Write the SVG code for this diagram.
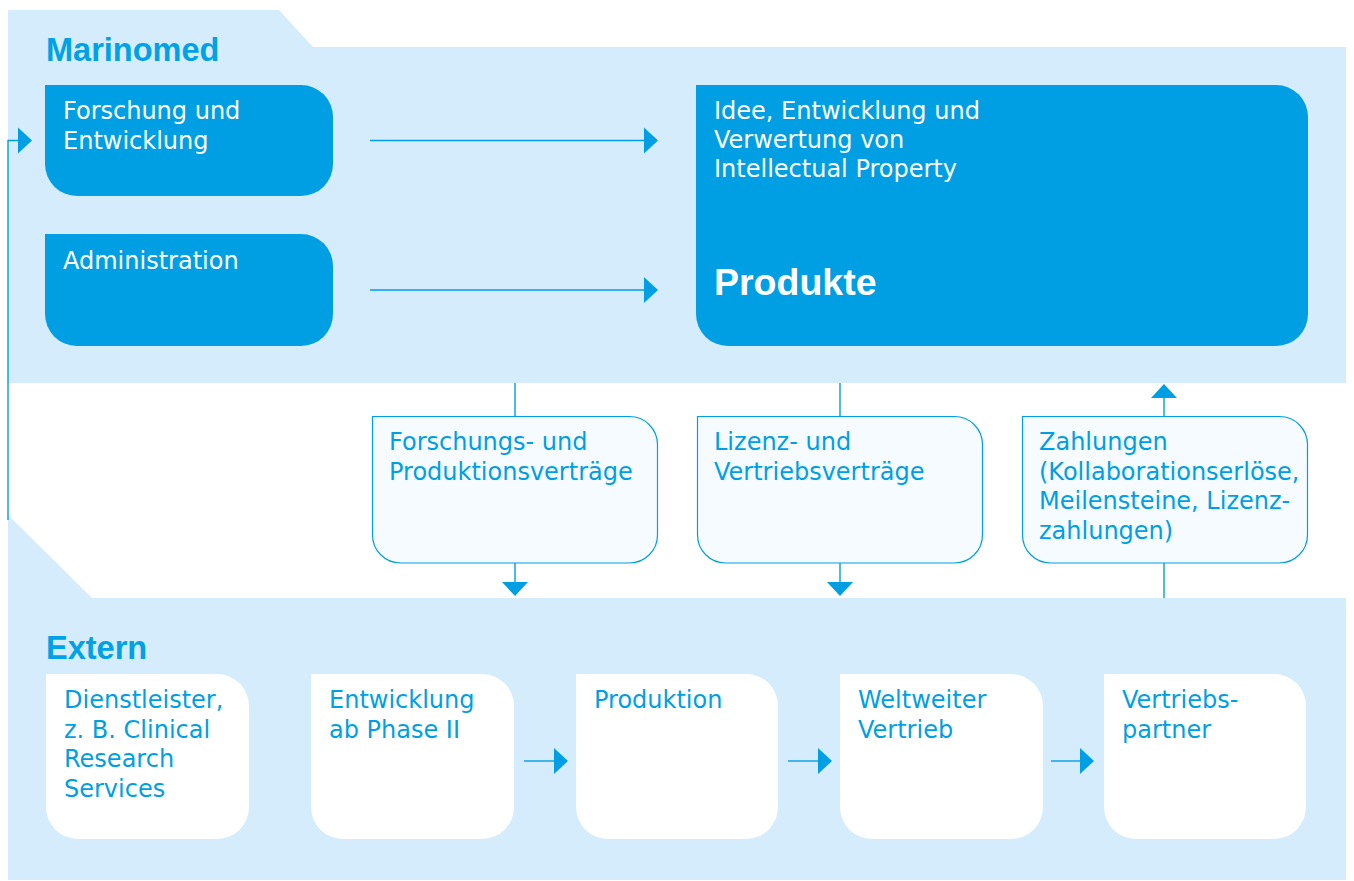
<svg xmlns="http://www.w3.org/2000/svg" width="1354" height="881" viewBox="0 0 1354 881">
<style>
.band{fill:#d4ecfb}
.dark{fill:#009fe3}
.light{fill:#f5fbff;stroke:#009fe3;stroke-width:1.2}
.white{fill:#ffffff}
.t{font-family:"DejaVu Sans",Verdana,sans-serif;font-size:24px}
.tw{fill:#ffffff}
.tb{fill:#009fe3}
.hd{font-family:"Liberation Sans",Arial,sans-serif;font-weight:bold;font-size:32.5px;fill:#00a2e6}
.big{font-family:"Liberation Sans",Arial,sans-serif;font-weight:bold;font-size:37.5px;fill:#ffffff}
.c{fill:none;stroke:#009fe3;stroke-width:1.4}
</style>
<defs>
<marker id="ah" markerUnits="userSpaceOnUse" markerWidth="14" markerHeight="26" refX="0" refY="13" orient="auto" overflow="visible">
<path d="M0,0 L14,13 L0,26 Z" fill="#009fe3"/>
</marker>
</defs>
<g id="bands">
<path class="band" d="M8,10 H279 L313,47 H1346 V383 H8 Z"/>
<path class="band" d="M8,515 L92,598 H1346 V880 H8 Z"/>
<text class="hd" x="46" y="61">Marinomed</text>
<text class="hd" x="46" y="658.5">Extern</text>
</g>
<g id="connectors">
<polyline class="c" points="8,520 8,140.5 18,140.5" marker-end="url(#ah)"/>
<line class="c" x1="370" y1="140.5" x2="644" y2="140.5" marker-end="url(#ah)"/>
<line class="c" x1="370" y1="290" x2="644" y2="290" marker-end="url(#ah)"/>
<line class="c" x1="515" y1="383" x2="515" y2="416.5"/>
<line class="c" x1="515" y1="563" x2="515" y2="582" marker-end="url(#ah)"/>
<line class="c" x1="840" y1="383" x2="840" y2="416.5"/>
<line class="c" x1="840" y1="563" x2="840" y2="582" marker-end="url(#ah)"/>
<line class="c" x1="1164" y1="598" x2="1164" y2="563"/>
<line class="c" x1="1164" y1="416.5" x2="1164" y2="398" marker-end="url(#ah)"/>
<line class="c" x1="524" y1="761" x2="554" y2="761" marker-end="url(#ah)"/>
<line class="c" x1="788" y1="761" x2="818" y2="761" marker-end="url(#ah)"/>
<line class="c" x1="1051" y1="761" x2="1080" y2="761" marker-end="url(#ah)"/>
</g>
<g id="fue">
<path class="dark" d="M45,85 H301 A32,32 0 0 1 333,117 V164 A32,32 0 0 1 301,196 H77 A32,32 0 0 1 45,164 Z"/>
<text class="t tw" x="63" y="119">Forschung und</text>
<text class="t tw" x="63" y="148.5">Entwicklung</text>
</g>
<g id="admin">
<path class="dark" d="M45,234 H301 A32,32 0 0 1 333,266 V314 A32,32 0 0 1 301,346 H77 A32,32 0 0 1 45,314 Z"/>
<text class="t tw" x="63" y="269">Administration</text>
</g>
<g id="produkte">
<path class="dark" d="M696,85 H1276 A32,32 0 0 1 1308,117 V314 A32,32 0 0 1 1276,346 H728 A32,32 0 0 1 696,314 Z"/>
<text class="t tw" x="714" y="119">Idee, Entwicklung und</text>
<text class="t tw" x="714" y="148">Verwertung von</text>
<text class="t tw" x="714" y="177">Intellectual Property</text>
<text class="big" x="714" y="295">Produkte</text>
</g>
<g id="vertraege1">
<path class="light" d="M372.5,416.5 H629.5 A28,28 0 0 1 657.5,444.5 V535 A28,28 0 0 1 629.5,563 H400.5 A28,28 0 0 1 372.5,535 Z"/>
<text class="t tb" x="389" y="450">Forschungs- und</text>
<text class="t tb" x="389" y="479.5">Produktionsverträge</text>
</g>
<g id="vertraege2">
<path class="light" d="M697.5,416.5 H954.5 A28,28 0 0 1 982.5,444.5 V535 A28,28 0 0 1 954.5,563 H725.5 A28,28 0 0 1 697.5,535 Z"/>
<text class="t tb" x="714" y="450">Lizenz- und</text>
<text class="t tb" x="714" y="479.5">Vertriebsverträge</text>
</g>
<g id="zahlungen">
<path class="light" d="M1022.5,416.5 H1279.5 A28,28 0 0 1 1307.5,444.5 V535 A28,28 0 0 1 1279.5,563 H1050.5 A28,28 0 0 1 1022.5,535 Z"/>
<text class="t tb" x="1039" y="450">Zahlungen</text>
<text class="t tb" x="1039" y="479.5">(Kollaborationserlöse,</text>
<text class="t tb" x="1039" y="509">Meilensteine, Lizenz-</text>
<text class="t tb" x="1039" y="538.5">zahlungen)</text>
</g>
<g id="dienstleister">
<path class="white" d="M46,674 H217 A32,32 0 0 1 249,706 V807 A32,32 0 0 1 217,839 H78 A32,32 0 0 1 46,807 Z"/>
<text class="t tb" x="64" y="708">Dienstleister,</text>
<text class="t tb" x="64" y="737.5">z. B. Clinical</text>
<text class="t tb" x="64" y="767">Research</text>
<text class="t tb" x="64" y="796.5">Services</text>
</g>
<g id="entwicklung">
<path class="white" d="M311,674 H482 A32,32 0 0 1 514,706 V807 A32,32 0 0 1 482,839 H343 A32,32 0 0 1 311,807 Z"/>
<text class="t tb" x="329" y="708">Entwicklung</text>
<text class="t tb" x="329" y="737.5">ab Phase II</text>
</g>
<g id="produktion">
<path class="white" d="M576,674 H746 A32,32 0 0 1 778,706 V807 A32,32 0 0 1 746,839 H608 A32,32 0 0 1 576,807 Z"/>
<text class="t tb" x="594" y="708">Produktion</text>
</g>
<g id="vertrieb">
<path class="white" d="M840,674 H1011 A32,32 0 0 1 1043,706 V807 A32,32 0 0 1 1011,839 H872 A32,32 0 0 1 840,807 Z"/>
<text class="t tb" x="858" y="708">Weltweiter</text>
<text class="t tb" x="858" y="737.5">Vertrieb</text>
</g>
<g id="partner">
<path class="white" d="M1104,674 H1274 A32,32 0 0 1 1306,706 V807 A32,32 0 0 1 1274,839 H1136 A32,32 0 0 1 1104,807 Z"/>
<text class="t tb" x="1122" y="708">Vertriebs-</text>
<text class="t tb" x="1122" y="737.5">partner</text>
</g>
</svg>
